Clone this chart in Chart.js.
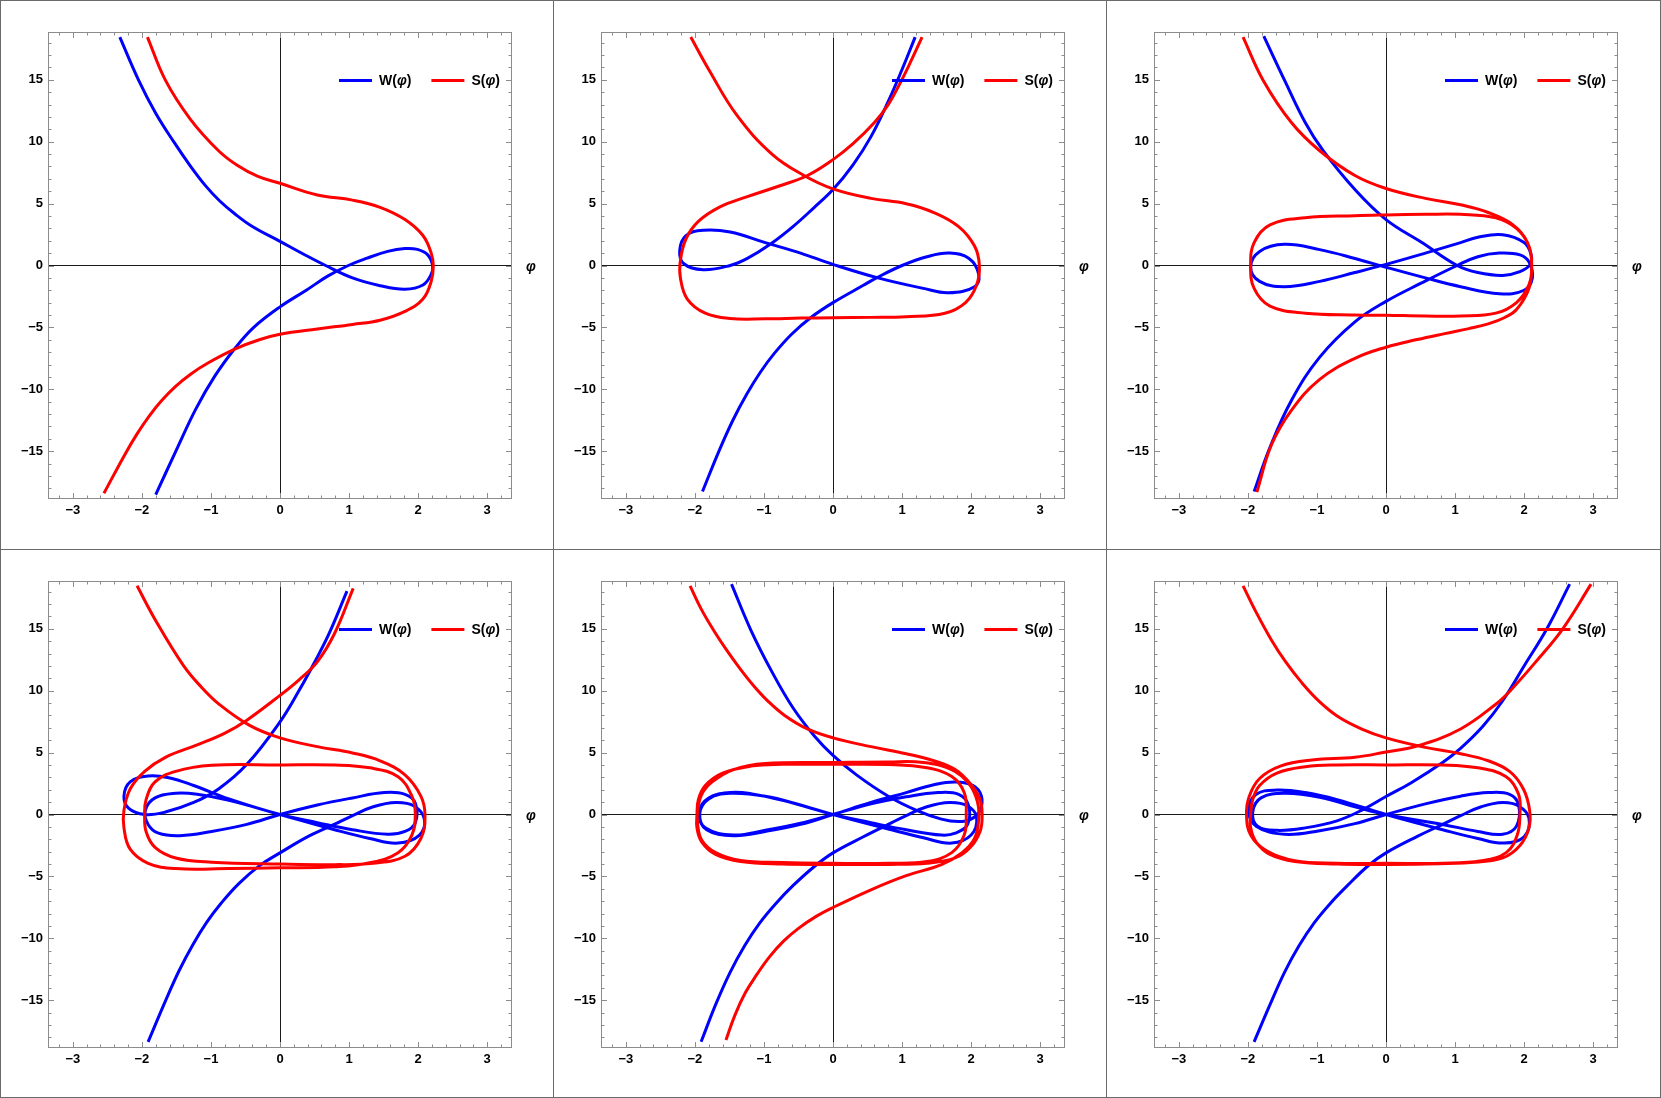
<!DOCTYPE html>
<html>
<head>
<meta charset="utf-8">
<title>W(φ) and S(φ)</title>
<script src="https://cdn.jsdelivr.net/npm/chart.js@4.4.1/dist/chart.umd.min.js"></script>
<style>
  body { margin: 0; background: #fff; }
  #wrap { position: relative; width: 1661px; height: 1098px; background: #fff; overflow: hidden; }
  #wrap canvas { position: absolute; }
  .rule { position: absolute; background: #6a6a6a; }
</style>
</head>
<body>
<div id="wrap"></div>
<script>
// Axis ticks
const phiTicks = [-3, -2, -1, 0, 1, 2, 3];
const phiTickLabels = ['\u22123', '\u22122', '\u22121', '0', '1', '2', '3'];
const valueTicks = [-15, -10, -5, 0, 5, 10, 15];
const valueTickLabels = ['\u221215', '\u221210', '\u22125', '0', '5', '10', '15'];
const seriesLabels = ['W(\u03c6)', 'S(\u03c6)'];
const seriesColors = ['#0000ff', '#ff0000'];

// Curves, [φ, value] pairs, in drawing order
const p1W = [[-2.32,18.45],[-2.05,15.0],[-1.80,12.3],[-1.54,10.0],[-1.30,8.05],[-1.08,6.45],[-0.88,5.25],[-0.66,4.2],[-0.40,3.15],[0,1.95],[0.33,0.95],[0.66,0],[1.05,-1.0],[1.45,-1.63],[1.81,-1.91],[2.07,-1.57],[2.19,-0.71],[2.21,0],[2.14,0.86],[1.99,1.30],[1.81,1.37],[1.56,1.14],[1.25,0.57],[0.99,0],[0.69,-0.86],[0.38,-2.0],[0,-3.34],[-0.38,-4.99],[-0.64,-6.6],[-0.94,-8.9],[-1.22,-11.6],[-1.50,-14.9],[-1.80,-18.5]];
const p1S = [[-1.92,18.45],[-1.66,14.97],[-1.30,11.83],[-0.89,9.27],[-0.62,8.1],[-0.32,7.2],[0,6.64],[0.54,5.70],[1.05,5.28],[1.45,4.7],[1.81,3.71],[2.07,2.42],[2.19,1.0],[2.22,0],[2.19,-1.28],[2.07,-2.71],[1.81,-3.71],[1.45,-4.42],[1.05,-4.76],[0.54,-5.13],[0,-5.56],[-0.30,-6.0],[-0.64,-6.72],[-1.05,-7.9],[-1.30,-8.8],[-1.52,-9.8],[-1.72,-10.95],[-1.90,-12.2],[-2.07,-13.6],[-2.25,-15.3],[-2.55,-18.4]];

const p2W = [[-1.89,-18.25],[-1.65,-14.97],[-1.45,-12.5],[-1.25,-10.4],[-1.05,-8.6],[-0.85,-7.1],[-0.60,-5.55],[-0.32,-4.2],[0,-3.0],[0.44,-1.60],[0.63,-1.0],[1.0,0],[1.36,0.71],[1.69,1.0],[1.97,0.57],[2.11,-0.71],[2.05,-1.71],[1.67,-2.2],[1.31,-1.85],[0.65,-1.0],[0,0.09],[-0.47,1.0],[-0.98,1.85],[-1.49,2.71],[-1.88,2.85],[-2.13,2.42],[-2.22,1.23],[-2.16,0.14],[-1.88,-0.34],[-1.49,0],[-1.24,0.57],[-0.91,1.71],[-0.58,3.14],[-0.27,4.70],[0,6.13],[0.29,8.13],[0.55,10.41],[0.80,13.26],[1.0,15.83],[1.19,18.45]];
const p2S = [[-2.06,18.45],[-1.80,15.83],[-1.39,12.12],[-0.88,8.98],[-0.42,7.27],[0,6.19],[0.55,5.42],[1.06,4.99],[1.46,4.28],[1.82,3.14],[2.05,1.57],[2.12,0],[2.08,-1.57],[1.92,-2.99],[1.62,-3.85],[1.06,-4.13],[0.55,-4.19],[0,-4.22],[-0.47,-4.25],[-0.98,-4.31],[-1.49,-4.28],[-1.85,-3.85],[-2.11,-2.71],[-2.21,-1.0],[-2.21,0.43],[-2.13,2.14],[-1.95,3.56],[-1.65,4.70],[-1.24,5.56],[-0.78,6.42],[-0.37,7.27],[0,8.55],[0.29,9.84],[0.60,11.55],[0.80,13.0],[0.96,14.6],[1.12,16.4],[1.29,18.45]];

const p3W = [[-1.77,18.53],[-1.47,14.97],[-1.17,11.55],[-0.91,9.27],[-0.45,6.13],[0,3.71],[0.52,1.85],[1.03,0],[1.33,-0.57],[1.69,-0.80],[1.94,-0.50],[2.09,0.10],[2.10,0.90],[2.0,1.85],[1.69,2.48],[1.33,2.28],[1.08,1.85],[0.57,1.0],[0,0.09],[-0.45,-0.57],[-0.96,-1.28],[-1.47,-1.71],[-1.83,-1.28],[-1.96,-0.14],[-1.83,1.14],[-1.47,1.71],[-0.96,1.28],[-0.45,0.57],[0,-0.14],[0.57,-1.0],[1.08,-1.71],[1.64,-2.28],[2.0,-2.0],[2.12,-1.0],[2.07,0.29],[1.94,0.86],[1.64,1.0],[1.33,0.71],[1.03,0],[0.50,-1.45],[0,-2.9],[-0.45,-4.55],[-0.96,-7.4],[-1.37,-10.9],[-1.68,-14.68],[-1.91,-18.25]];
const p3S = [[-2.07,18.45],[-1.78,14.97],[-1.37,11.55],[-0.96,9.27],[-0.45,7.27],[0,6.22],[0.57,5.42],[1.08,4.90],[1.48,4.28],[1.84,3.28],[2.05,1.85],[2.11,0],[2.07,-1.57],[1.89,-2.99],[1.59,-3.85],[1.08,-4.08],[0.57,-4.08],[0,-4.02],[-0.45,-3.99],[-1.17,-3.85],[-1.68,-3.28],[-1.91,-1.85],[-1.96,0],[-1.91,1.85],[-1.68,3.28],[-1.17,3.85],[-0.45,4.02],[0,4.08],[0.57,4.13],[1.08,4.13],[1.59,3.85],[1.89,2.99],[2.07,1.57],[2.11,0],[2.07,-1.85],[1.89,-3.56],[1.72,-4.2],[1.48,-4.72],[1.20,-5.1],[0.85,-5.5],[0.45,-5.98],[0,-6.6],[-0.45,-7.5],[-0.96,-9.2],[-1.37,-11.7],[-1.66,-14.5],[-1.87,-18.3]];

const p4W = [[-1.91,-18.36],[-1.66,-15.07],[-1.46,-12.6],[-1.26,-10.5],[-1.06,-8.7],[-0.85,-7.15],[-0.60,-5.6],[-0.30,-4.15],[0,-3.1],[0.43,-1.71],[0.84,-0.66],[1.05,-0.09],[1.35,0.63],[1.68,0.97],[1.94,0.69],[2.09,-0.37],[2.02,-1.66],[1.71,-2.31],[1.30,-1.94],[0.79,-1.23],[0,0],[-0.74,1.14],[-1.20,1.63],[-1.51,1.71],[-1.81,1.34],[-1.95,0.34],[-1.91,-0.80],[-1.76,-1.51],[-1.45,-1.71],[-0.99,-1.37],[-0.48,-0.80],[0,0],[0.54,0.77],[1.05,1.34],[1.51,1.77],[1.81,1.63],[1.96,0.91],[1.96,-0.66],[1.81,-1.37],[1.56,-1.60],[1.05,-1.23],[0.54,-0.66],[0,0],[-0.74,1.26],[-1.25,2.34],[-1.61,2.97],[-1.91,3.11],[-2.17,2.63],[-2.26,1.48],[-2.19,0.49],[-1.96,0],[-1.66,0.20],[-1.25,0.97],[-0.89,2.06],[-0.48,4.05],[0,7.48],[0.28,10.05],[0.52,12.5],[0.71,14.6],[0.97,18.04]];
const p4S = [[-2.07,18.47],[-1.81,15.76],[-1.40,12.05],[-1.14,10.3],[-0.88,8.9],[-0.44,7.2],[0,6.19],[0.54,5.48],[1.05,4.97],[1.45,4.34],[1.81,3.20],[2.04,1.48],[2.10,-0.09],[2.04,-1.94],[1.81,-3.37],[1.35,-3.94],[0.79,-4.05],[0,-4.0],[-0.99,-3.85],[-1.51,-3.51],[-1.81,-2.65],[-1.94,-1.37],[-1.96,0],[-1.94,1.2],[-1.81,2.63],[-1.51,3.48],[-0.99,3.97],[0,4.0],[0.79,4.0],[1.30,3.77],[1.71,3.05],[1.91,1.48],[1.96,0],[1.91,-1.66],[1.71,-3.08],[1.30,-3.9],[0.79,-4.22],[0,-4.31],[-0.74,-4.37],[-1.51,-4.37],[-1.91,-3.94],[-2.17,-2.80],[-2.26,-1.08],[-2.26,0.34],[-2.17,2.06],[-1.96,3.48],[-1.66,4.62],[-1.20,5.62],[-0.79,6.6],[-0.48,7.62],[0,9.62],[0.28,10.9],[0.54,12.33],[0.79,14.62],[1.06,18.27]];

const p5W = [[-1.91,-18.36],[-1.70,-15.36],[-1.49,-12.75],[-1.28,-10.6],[-1.06,-8.75],[-0.83,-7.2],[-0.58,-5.75],[-0.27,-4.2],[0,-3.1],[0.44,-1.80],[0.80,-0.80],[1.06,-0.09],[1.36,0.63],[1.69,0.97],[1.95,0.69],[2.08,-0.23],[2.00,-1.66],[1.72,-2.31],[1.31,-1.88],[0.80,-1.17],[0,0],[-0.73,1.14],[-1.19,1.68],[-1.49,1.77],[-1.80,1.34],[-1.94,0.20],[-1.85,-1.08],[-1.44,-1.66],[-0.98,-1.28],[-0.47,-0.71],[0,0],[0.55,0.86],[1.06,1.43],[1.52,1.77],[1.82,1.63],[1.96,0.77],[1.95,-0.80],[1.77,-1.51],[1.57,-1.66],[1.06,-1.23],[0.55,-0.66],[0,0],[-0.47,0.77],[-0.98,1.48],[-1.49,1.71],[-1.80,1.26],[-1.93,0.06],[-1.83,-1.23],[-1.44,-1.71],[-0.98,-1.37],[-0.47,-0.80],[0,0],[0.55,0.97],[1.06,1.77],[1.46,2.40],[1.77,2.63],[2.03,2.34],[2.15,1.48],[2.13,0.34],[2.0,-0.37],[1.82,-0.57],[1.57,-0.37],[1.21,0.34],[0.80,1.48],[0.34,3.20],[0,4.77],[-0.27,6.34],[-0.58,8.62],[-0.88,11.48],[-1.19,14.90],[-1.47,18.61]];
const p5S = [[-2.07,18.47],[-1.91,16.61],[-1.72,14.8],[-1.55,13.35],[-1.35,11.8],[-1.15,10.4],[-0.95,9.2],[-0.70,8.0],[-0.37,6.91],[0,6.19],[0.55,5.48],[1.06,4.91],[1.46,4.34],[1.77,3.63],[1.99,2.48],[2.13,1.20],[2.16,-0.09],[2.13,-1.37],[1.99,-2.65],[1.77,-3.51],[1.36,-3.94],[0.80,-4.03],[0,-4.03],[-0.73,-4.0],[-1.34,-3.80],[-1.70,-3.23],[-1.90,-2.23],[-1.97,-1.08],[-1.97,0],[-1.95,1.20],[-1.85,2.34],[-1.60,3.34],[-1.19,3.91],[-0.73,4.05],[0,4.05],[0.80,4.03],[1.36,3.77],[1.72,3.06],[1.90,1.77],[1.93,0],[1.90,-1.66],[1.72,-3.08],[1.36,-3.80],[0.80,-3.94],[0,-3.94],[-0.73,-3.88],[-1.34,-3.71],[-1.70,-3.08],[-1.90,-2.08],[-1.96,-0.80],[-1.96,0.34],[-1.90,1.63],[-1.75,2.63],[-1.44,3.63],[-0.98,4.11],[0,4.20],[0.80,4.25],[1.31,4.20],[1.72,3.63],[1.97,2.48],[2.09,1.06],[2.11,-0.37],[2.05,-1.94],[1.87,-3.08],[1.57,-4.05],[1.06,-4.94],[0.55,-6.08],[0,-7.51],[-0.25,-8.25],[-0.50,-9.2],[-0.72,-10.25],[-0.92,-11.5],[-1.10,-12.9],[-1.27,-14.4],[-1.42,-16.2],[-1.55,-18.21]];

const p6W = [[-1.91,-18.36],[-1.68,-15.36],[-1.47,-12.75],[-1.26,-10.6],[-1.04,-8.75],[-0.81,-7.2],[-0.56,-5.75],[-0.25,-4.1],[0,-3.1],[0.46,-1.75],[0.82,-0.80],[1.08,-0.09],[1.38,0.63],[1.69,0.97],[1.92,0.69],[2.07,-0.29],[2.0,-1.80],[1.71,-2.31],[1.33,-1.94],[0.82,-1.23],[0,0],[-0.71,1.20],[-1.17,1.77],[-1.58,1.97],[-1.88,1.63],[-1.99,0.34],[-1.88,-0.94],[-1.47,-1.60],[-0.96,-1.31],[-0.45,-0.74],[0,0],[0.57,0.86],[1.08,1.48],[1.48,1.77],[1.79,1.63],[1.92,0.77],[1.89,-0.94],[1.69,-1.60],[1.33,-1.37],[0.82,-0.80],[0,0],[-0.45,0.63],[-0.96,1.40],[-1.47,1.71],[-1.81,1.34],[-1.93,0.20],[-1.86,-0.94],[-1.58,-1.28],[-1.17,-1.08],[-0.71,-0.51],[-0.35,0.35],[0,1.45],[0.36,2.55],[0.82,4.2],[1.08,5.34],[1.40,7.1],[1.69,9.19],[2.0,12.0],[2.33,15.0],[2.66,18.61]];
const p6S = [[-2.07,18.47],[-1.88,16.33],[-1.66,14.1],[-1.45,12.3],[-1.22,10.65],[-0.96,9.1],[-0.68,7.85],[-0.35,6.9],[0,6.19],[0.57,5.42],[1.08,4.91],[1.48,4.34],[1.79,3.48],[1.99,2.06],[2.08,0.34],[2.07,-1.08],[1.94,-2.51],[1.69,-3.51],[1.23,-3.88],[0.57,-4.0],[0,-4.03],[-0.71,-4.0],[-1.32,-3.80],[-1.68,-3.23],[-1.88,-2.23],[-1.96,-1.08],[-1.96,0],[-1.93,1.20],[-1.83,2.34],[-1.58,3.34],[-1.17,3.85],[-0.71,4.0],[0,4.0],[0.82,4.0],[1.33,3.77],[1.74,3.05],[1.92,1.63],[1.94,0],[1.90,-1.66],[1.74,-3.08],[1.38,-3.74],[0.82,-3.94],[0,-3.94],[-0.71,-3.94],[-1.32,-3.74],[-1.73,-2.94],[-1.96,-1.66],[-2.02,0],[-1.98,1.48],[-1.83,2.91],[-1.53,3.91],[-1.07,4.40],[-0.45,4.62],[0,5.05],[0.46,5.54],[1.08,6.91],[1.59,8.91],[1.80,10.0],[2.18,12.4],[2.56,15.0],[2.97,18.61]];

const panelCurves = [[p1W, p1S], [p2W, p2S], [p3W, p3S], [p4W, p4S], [p5W, p5S], [p6W, p6S]];

// Layout of the 3x2 grid
const cellLeft = [0, 553, 1106];
const cellWidth = [553, 553, 555];
const cellTop = [0, 549];
const cellHeight = 549;
const plotLeft = 48, plotTop = 32, plotRight = 512, plotBottom = 499;

const fontName = 'Liberation Sans, Arial, sans-serif';
const tickFont = { family: fontName, size: 13, weight: 'bold' };

// Frame with inward ticks on all four sides
const frameTicks = {
    id: 'frameTicks',
    beforeDatasetsDraw(chart) {
        const { ctx, chartArea: a, scales: { x, y } } = chart;
        ctx.save();
        ctx.strokeStyle = '#8c8c8c';
        ctx.lineWidth = 1;
        ctx.strokeRect(a.left + 0.5, a.top + 0.5, a.right - a.left - 1, a.bottom - a.top - 1);
        ctx.beginPath();
        for (let i = -16; i <= 16; i++) {
            const px = Math.round(x.getPixelForValue(i * 0.2)) + 0.5;
            const len = i % 5 === 0 ? 6 : 3.5;
            ctx.moveTo(px, a.bottom); ctx.lineTo(px, a.bottom - len);
            ctx.moveTo(px, a.top); ctx.lineTo(px, a.top + len);
        }
        for (let v = -18; v <= 18; v++) {
            const py = Math.round(y.getPixelForValue(v)) + 0.5;
            const len = v % 5 === 0 ? 6 : 3.5;
            ctx.moveTo(a.left, py); ctx.lineTo(a.left + len, py);
            ctx.moveTo(a.right, py); ctx.lineTo(a.right - len, py);
        }
        ctx.stroke();
        ctx.restore();
    }
};

// Write a label with its φ in italics
function drawLabel(ctx, text, x, y, size) {
    const parts = text.split('\u03c6');
    let cx = x;
    parts.forEach((part, i) => {
        ctx.font = 'bold ' + size + 'px ' + fontName;
        ctx.fillText(part, cx, y);
        cx += ctx.measureText(part).width;
        if (i < parts.length - 1) {
            ctx.font = 'italic bold ' + size + 'px ' + fontName;
            ctx.fillText('\u03c6', cx, y);
            cx += ctx.measureText('\u03c6').width;
        }
    });
    return cx - x;
}

// Legend inside the frame and the φ axis label
const inlineLegend = {
    id: 'inlineLegend',
    afterDatasetsDraw(chart) {
        const { ctx, chartArea: a, scales: { y } } = chart;
        ctx.save();
        ctx.textBaseline = 'middle';
        ctx.fillStyle = '#000';
        const ly = a.top + 48.5;
        let lx = a.left + 291;
        chart.data.datasets.forEach(ds => {
            ctx.strokeStyle = ds.borderColor;
            ctx.lineWidth = 3;
            ctx.beginPath();
            ctx.moveTo(lx, ly); ctx.lineTo(lx + 33, ly);
            ctx.stroke();
            lx += 40;
            const w = drawLabel(ctx, ds.label, lx, ly + 1, 14);
            lx += w + 20;
        });
        ctx.font = 'italic bold 14px ' + fontName;
        ctx.fillText('\u03c6', a.right + 14, y.getPixelForValue(0) + 2);
        ctx.restore();
    }
};

function zeroLine(ctx) {
    return ctx.tick && ctx.tick.value === 0 ? '#1a1a1a' : 'rgba(0,0,0,0)';
}

const wrap = document.getElementById('wrap');

panelCurves.forEach((curves, i) => {
    const col = i % 3, row = Math.floor(i / 3);
    const canvas = document.createElement('canvas');
    canvas.width = cellWidth[col];
    canvas.height = cellHeight;
    canvas.style.left = cellLeft[col] + 'px';
    canvas.style.top = cellTop[row] + 'px';
    wrap.appendChild(canvas);

    new Chart(canvas, {
        type: 'scatter',
        data: {
            datasets: curves.map((pts, k) => ({
                label: seriesLabels[k],
                data: pts.map(p => ({ x: p[0], y: p[1] })),
                showLine: true,
                borderColor: seriesColors[k],
                backgroundColor: seriesColors[k],
                borderWidth: 3,
                pointRadius: 0,
                tension: 0.4,
                fill: false,
                order: k === 0 ? 1 : 0
            }))
        },
        options: {
            responsive: false,
            animation: false,
            events: [],
            layout: { padding: { top: plotTop, right: cellWidth[col] - plotRight, bottom: 0, left: 0 } },
            plugins: { legend: { display: false }, tooltip: { enabled: false } },
            scales: {
                x: {
                    type: 'linear',
                    min: -3.36,
                    max: 3.36,
                    afterBuildTicks: s => { s.ticks = phiTicks.map(v => ({ value: v })); },
                    afterFit: s => { s.height = cellHeight - plotBottom; },
                    border: { display: false },
                    grid: { drawTicks: false, color: zeroLine, lineWidth: 1 },
                    ticks: {
                        padding: 4,
                        color: '#000',
                        font: tickFont,
                        maxRotation: 0,
                        autoSkip: false,
                        callback: v => phiTickLabels[phiTicks.indexOf(v)]
                    }
                },
                y: {
                    type: 'linear',
                    min: -18.86,
                    max: 18.86,
                    afterBuildTicks: s => { s.ticks = valueTicks.map(v => ({ value: v })); },
                    afterFit: s => { s.width = plotLeft; },
                    border: { display: false },
                    grid: { drawTicks: false, color: zeroLine, lineWidth: 1 },
                    ticks: {
                        padding: 5,
                        color: '#000',
                        font: tickFont,
                        autoSkip: false,
                        callback: v => valueTickLabels[valueTicks.indexOf(v)]
                    }
                }
            }
        },
        plugins: [frameTicks, inlineLegend]
    });
});

// Panel dividers and outer border
[
    [0, 0, 1661, 1], [0, 1097, 1661, 1], [0, 0, 1, 1098], [1660, 0, 1, 1098],
    [553, 0, 1, 1098], [1106, 0, 1, 1098], [0, 549, 1661, 1]
].forEach(r => {
    const d = document.createElement('div');
    d.className = 'rule';
    d.style.left = r[0] + 'px'; d.style.top = r[1] + 'px';
    d.style.width = r[2] + 'px'; d.style.height = r[3] + 'px';
    wrap.appendChild(d);
});
</script>
</body>
</html>
